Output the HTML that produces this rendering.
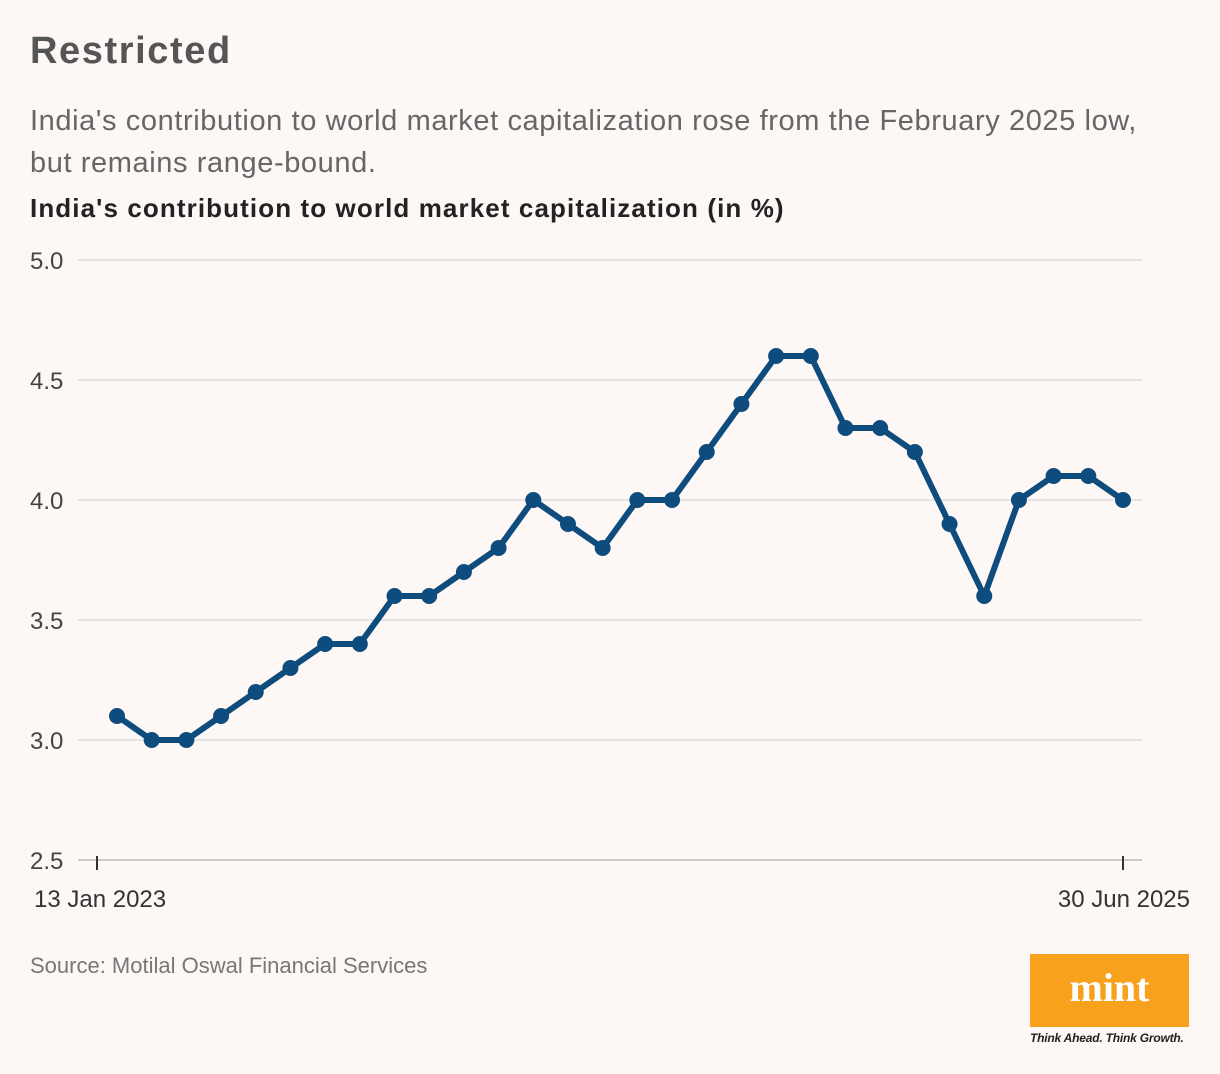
<!DOCTYPE html>
<html><head><meta charset="utf-8"><style>
body{margin:0;background:#fdf7f6;width:1220px;height:1074px;overflow:hidden;font-family:"Liberation Sans",sans-serif;position:relative}
.t{position:absolute;white-space:nowrap}
</style></head><body>
<div class="t" style="left:30px;top:30px;font-size:38px;font-weight:bold;color:#555;letter-spacing:1.6px">Restricted</div>
<div class="t" style="left:30px;top:100px;font-size:29px;color:#666;line-height:42px;letter-spacing:0.6px">India's contribution to world market capitalization rose from the February 2025 low,<br>but remains range-bound.</div>
<div class="t" style="left:30px;top:193px;font-size:26px;font-weight:bold;color:#222;letter-spacing:1.1px">India's contribution to world market capitalization (in %)</div>
<svg id="c" width="1220" height="1074" style="position:absolute;left:0;top:0"></svg>
<div class="t" style="left:30px;top:953px;font-size:22px;color:#777">Source: Motilal Oswal Financial Services</div>
<div style="position:absolute;left:1030px;top:954px;width:159px;height:73px;background:#f7a11c;color:#fff;font-family:'Liberation Serif',serif;font-weight:bold;font-size:40px;text-align:center;line-height:68px">mint</div>
<div class="t" style="left:1030px;top:1031px;font-size:12px;font-style:italic;color:#222;font-weight:bold;letter-spacing:-0.2px">Think Ahead. Think Growth.</div>
<script>
const values=[3.1,3.0,3.0,3.1,3.2,3.3,3.4,3.4,3.6,3.6,3.7,3.8,4.0,3.9,3.8,4.0,4.0,4.2,4.4,4.6,4.6,4.3,4.3,4.2,3.9,3.6,4.0,4.1,4.1,4.0];
const yTicks=[2.5,3.0,3.5,4.0,4.5,5.0];
const xLabels=["13 Jan 2023","30 Jun 2025"];
const ns="http://www.w3.org/2000/svg",svg=document.getElementById('c');
const y=v=>860-(v-2.5)*240;
const x=i=>117+i*(1123-117)/(values.length-1);
function mk(t,a){const e=document.createElementNS(ns,t);for(const k in a)e.setAttribute(k,a[k]);svg.appendChild(e);return e;}
yTicks.forEach(v=>{
 const g=mk('line',{x1:78,x2:1142,y1:y(v),y2:y(v),stroke:v==2.5?'#bbb':'#ddd','stroke-width':1.5});
 
 
 const t=mk('text',{x:30,y:y(v)+9,'font-size':24,fill:'#444','font-family':'Liberation Sans'});t.textContent=v.toFixed(1);
 
 
});
[[97,xLabels[0],34,'start'],[1123,xLabels[1],1190,'end']].forEach(([px,l,tx,an])=>{
 const tk=mk('line',{x1:px,x2:px,y1:856,y2:870,stroke:'#333','stroke-width':2});
 
 
 const t=mk('text',{x:tx,y:907,'font-size':24,fill:'#333','text-anchor':an,'font-family':'Liberation Sans'});t.textContent=l;
 
 
});
const p=mk('polyline',{points:values.map((v,i)=>x(i)+','+y(v)).join(' '),fill:'none',stroke:'#0f4c7e','stroke-width':6,'stroke-linejoin':'round'});


values.forEach((v,i)=>{const c=mk('circle',{cx:x(i),cy:y(v),r:8,fill:'#0f4c7e'});
 
 });
</script>
</body></html>
